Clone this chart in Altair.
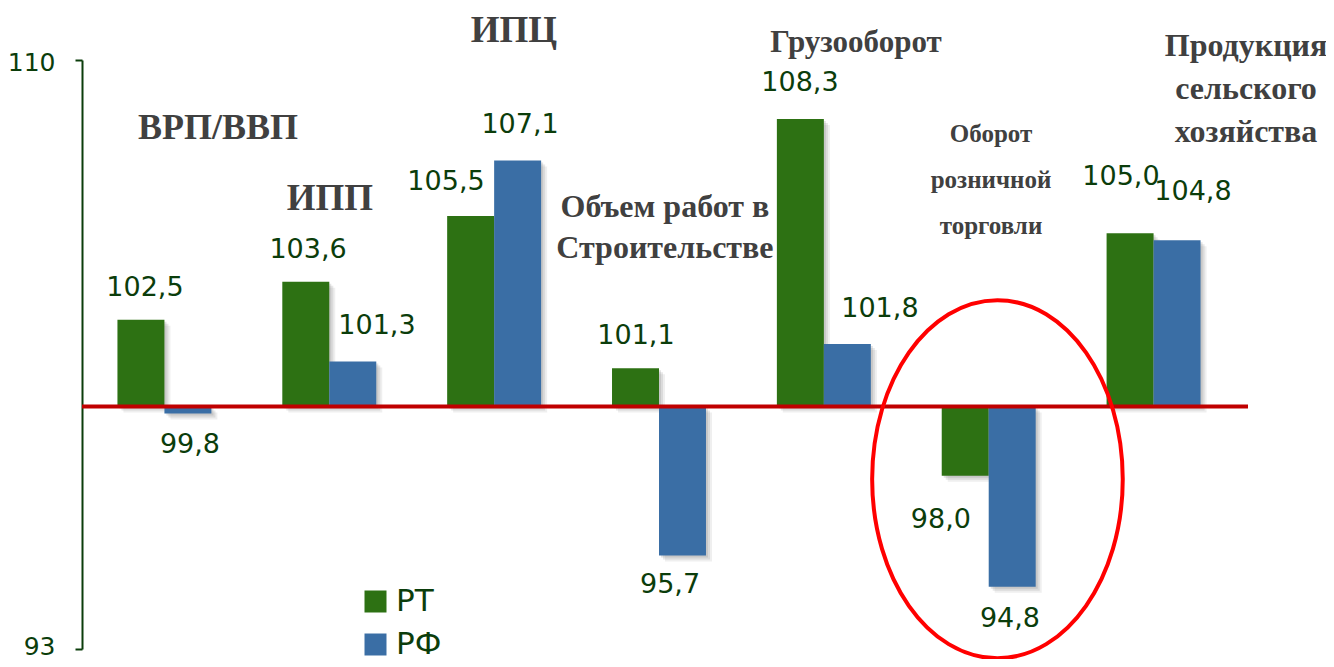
import altair as alt
import pandas as pd

# ---- data ----
categories = ['ВРП/ВВП', 'ИПП', 'ИПЦ', 'Объем работ в Строительстве',
              'Грузооборот', 'Оборот розничной торговли', 'Продукция сельского хозяйства']
series = ['РТ', 'РФ']
rt_values = [102.5, 103.6, 105.5, 101.1, 108.3, 98.0, 105.0]
rf_values = [99.8, 101.3, 107.1, 95.7, 101.8, 94.8, 104.8]

# label anchor positions (x in group units, y in value units)
rt_label_x = [0.382, 1.371, 2.208, 3.360, 4.355, 5.210, 6.302]
rt_label_y = [103.43, 104.52, 106.47, 102.03, 109.34, 96.73, 106.62]
rf_label_x = [0.655, 1.789, 2.657, 3.567, 4.840, 5.629, 6.739]
rf_label_y = [98.88, 102.32, 108.11, 94.86, 102.80, 93.86, 106.19]

# category captions: lines, x (group units), y of first line (value units), font size, line height
cat_lines = [['ВРП/ВВП'], ['ИПП'], ['ИПЦ'], ['Объем работ в', 'Строительстве'],
             ['Грузооборот'], ['Оборот', 'розничной', 'торговли'],
             ['Продукция', 'сельского', 'хозяйства']]
cat_x = [0.825, 1.504, 2.620, 3.536, 4.695, 5.514, 7.061]
cat_y = [108.05, 105.99, 110.83, 105.76, 110.49, 107.85, 110.40]
cat_fs = [36, 37, 37, 32, 31, 25, 32]
cat_lh = [40, 40, 40, 41, 40, 46, 43]

GREEN = '#2D7113'
BLUE = '#3A6EA5'
LABEL = '#0B3D0B'
CAPTION = '#404040'

W, H = 1154, 589
YDOM = [93, 110]
STEP = W / 7
PX_PER_UNIT = H / (YDOM[1] - YDOM[0])
HALF = 0.285  # one bar width in group units (bandwidth 0.57 / 2)

bars_df = pd.DataFrame({
    'cat': categories * 2,
    'idx': list(range(7)) * 2,
    'side': [0] * 7 + [1] * 7,
    'series': ['РТ'] * 7 + ['РФ'] * 7,
    'value': rt_values + rf_values,
})

def fmt(v):
    return f"{v:.1f}".replace('.', ',')

labels_df = pd.DataFrame({
    'x': rt_label_x + rf_label_x,
    'y': rt_label_y + rf_label_y,
    'text': [fmt(v) for v in rt_values + rf_values],
})

yscale = alt.Scale(domain=YDOM, nice=False, zero=False)
xq = alt.Scale(domain=[0, 7], nice=False, zero=False)


def shadow(px, op):
    dx = px / STEP
    dv = px / PX_PER_UNIT
    return alt.Chart(bars_df).transform_calculate(
        x0=f"datum.idx + 0.5 - {HALF} + datum.side * {HALF} + {dx}",
        x1=f"datum.idx + 0.5 + datum.side * {HALF} + {dx}",
        y0=f"datum.value - {dv}",
        y1=f"100 - {dv}",
    ).mark_rect(color='#7f7f7f', opacity=op).encode(
        x=alt.X('x0:Q', scale=xq, axis=None), x2='x1:Q',
        y=alt.Y('y0:Q', scale=yscale, title=None,
                axis=alt.Axis(values=[93, 110], grid=False, domainColor=LABEL,
                              domainWidth=2, tickColor=LABEL, tickWidth=2, tickSize=7,
                              labelColor=LABEL, labelFont='DejaVu Sans', labelFontSize=25,
                              labelPadding=20, labelFlush=True, labelFlushOffset=10)),
        y2='y1:Q',
    )


bars = alt.Chart(bars_df).mark_bar().encode(
    x=alt.X('cat:N', sort=categories, axis=None,
            scale=alt.Scale(paddingInner=0.43, paddingOuter=0.215)),
    xOffset=alt.XOffset('series:N', sort=series,
                        scale=alt.Scale(paddingInner=0, paddingOuter=0)),
    y=alt.Y('value:Q', scale=yscale, title=None,
            axis=alt.Axis(values=[93, 110], grid=False, domainColor=LABEL,
                          domainWidth=2, tickColor=LABEL, tickWidth=2, tickSize=7,
                          labelColor=LABEL, labelFont='DejaVu Sans', labelFontSize=25,
                          labelPadding=20, labelFlush=True, labelFlushOffset=10)),
    y2=alt.datum(100),
    color=alt.Color('series:N', sort=series,
                    scale=alt.Scale(domain=series, range=[GREEN, BLUE]),
                    legend=alt.Legend(title=None, orient='none', legendX=278, legendY=526,
                                      symbolType='square', symbolSize=484,
                                      symbolStrokeWidth=0, labelFontSize=31,
                                      labelFont='DejaVu Sans', labelColor=LABEL,
                                      rowPadding=11, padding=0, labelOffset=5)),
)

baseline = alt.Chart(pd.DataFrame({'v': [100]})).mark_rule(
    color='#C00000', strokeWidth=4
).encode(y=alt.Y('v:Q', scale=yscale), x=alt.value(0), x2=alt.value(1166))

value_labels = alt.Chart(labels_df).mark_text(
    font='DejaVu Sans', fontSize=27, color=LABEL, align='center', baseline='middle'
).encode(
    x=alt.X('x:Q', scale=xq, axis=None),
    y=alt.Y('y:Q', scale=yscale),
    text='text:N',
)

caption_layers = []
for lines, cx, cy, fs, lh in zip(cat_lines, cat_x, cat_y, cat_fs, cat_lh):
    df = pd.DataFrame({'x': [cx], 'y': [cy], 't': [lines]})
    caption_layers.append(
        alt.Chart(df).mark_text(
            font='Liberation Serif', fontWeight='bold', fontSize=fs, lineHeight=lh,
            color=CAPTION, align='center', baseline='middle'
        ).encode(x=alt.X('x:Q', scale=xq, axis=None),
                 y=alt.Y('y:Q', scale=yscale), text='t')
    )

k = 0.5523
a = 0.70
ellipse_path = (f"M 0 -1 C {k*a:.4f} -1 {a} {-k:.4f} {a} 0 "
                f"C {a} {k:.4f} {k*a:.4f} 1 0 1 "
                f"C {-k*a:.4f} 1 {-a} {k:.4f} {-a} 0 "
                f"C {-a} {-k:.4f} {-k*a:.4f} -1 0 -1 Z")
ellipse = alt.Chart(pd.DataFrame({'x': [5.553], 'y': [97.9]})).mark_point(
    shape=ellipse_path, size=358 ** 2, filled=False, color='#FF0000',
    strokeWidth=4, opacity=1
).encode(x=alt.X('x:Q', scale=xq, axis=None), y=alt.Y('y:Q', scale=yscale))

chart = alt.layer(
    shadow(6, 0.12), shadow(4, 0.18), shadow(2, 0.22), bars,
    baseline, value_labels, *caption_layers, ellipse
).resolve_scale(
    x='independent'
).properties(
    width=W, height=H,
    autosize=alt.AutoSizeParams(type='none'),
    padding={'left': 74, 'top': 52, 'right': 90, 'bottom': 10},
).configure_view(stroke=None)

chart.save("out.html", embed_options={"renderer": "svg", "actions": False})
